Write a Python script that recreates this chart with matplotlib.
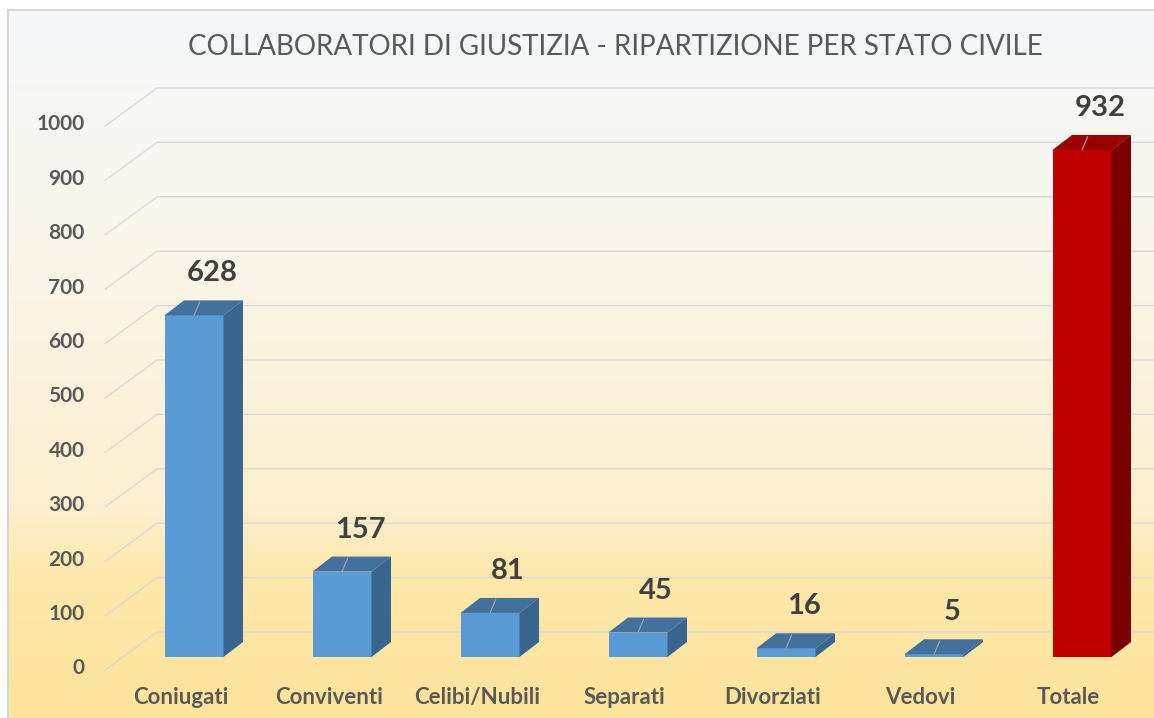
import numpy as np
import matplotlib
matplotlib.use("Agg")
import matplotlib.pyplot as plt
from matplotlib.patches import Polygon
from matplotlib.colors import LinearSegmentedColormap

# data
categories = ["Coniugati", "Conviventi", "Celibi/Nubili", "Separati", "Divorziati", "Vedovi", "Totale"]
values = [628, 157, 81, 45, 16, 5, 932]
y_ticks = [0, 100, 200, 300, 400, 500, 600, 700, 800, 900, 1000]
title = "COLLABORATORI DI GIUSTIZIA - RIPARTIZIONE PER STATO CIVILE"

W, H, DPI = 1154, 718, 100
plt.rcParams['font.family'] = ['Lato', 'DejaVu Sans']

fig = plt.figure(figsize=(W / DPI, H / DPI), dpi=DPI)
fig.patch.set_facecolor("white")

# background gradient panel
bg = fig.add_axes([8 / W, 0, 1 - 8 / W, 1 - 10 / H])
grad = LinearSegmentedColormap.from_list("bg", [
    (0.0, "#f4f7fa"), (0.35, "#faf5e9"), (0.7, "#fcefcf"),
    (0.8, "#fde8ab"), (1.0, "#fee49b")])
bg.imshow(np.linspace(0, 1, 256).reshape(-1, 1), aspect="auto", cmap=grad,
          extent=[0, 1, 1, 0])
bg.set_xlim(0, 1)
bg.set_ylim(1, 0)
bg.axis("off")
fig.add_artist(plt.Line2D([8 / W, 8 / W], [0, 1 - 10 / H], color="#d0d0d0", lw=1.2))
fig.add_artist(plt.Line2D([8 / W, 1], [1 - 10 / H, 1 - 10 / H], color="#d0d0d0", lw=1.2))

# main axes: whole figure, category units on x, values on y
ax = fig.add_axes([0, 0, 1, 1])
ax.patch.set_alpha(0)
px_per_cat = 148.0
px_per_val = 0.544
x0_px, y0_px = 194.0, 657.0
ax.set_xlim(-x0_px / px_per_cat, (W - x0_px) / px_per_cat)
ax.set_ylim(-(H - y0_px) / px_per_val, y0_px / px_per_val)
ax.axis("off")

# perspective offsets (data units)
bar_w = 59 / px_per_cat
dx = 19.5 / px_per_cat
dy = 15 / px_per_val
back_x = -0.25
back_dy = 25 / px_per_val
front_x = -0.60
front_dy = -13 / px_per_val

# grid lines
for t in y_ticks:
    ax.plot([front_x, back_x, 7.0], [t + front_dy, t + back_dy, t + back_dy],
            color="#d9d9d9", lw=1.0, zorder=1)
    ax.text(-0.74, t + front_dy + 3, str(t), ha="right", va="center",
            fontsize=15, fontweight="bold", color="#595959")

front_cols = ["#5b9bd5"] * 6 + ["#c00000"]
top_cols = ["#41719c"] * 6 + ["#9c0000"]
side_cols = ["#3a658f"] * 6 + ["#7a0000"]

xs = np.arange(len(categories))
ax.bar(xs, values, width=bar_w, color=front_cols, zorder=3)
for i, v in enumerate(values):
    l, r = i - bar_w / 2, i + bar_w / 2
    ax.add_patch(Polygon([(l, v), (r, v), (r + dx, v + dy), (l + dx, v + dy)],
                         closed=True, facecolor=top_cols[i], edgecolor="none", zorder=3))
    ax.add_patch(Polygon([(r, 0), (r + dx, dy), (r + dx, v + dy), (r, v)],
                         closed=True, facecolor=side_cols[i], edgecolor="none", zorder=3))
    # value label with leader line
    ax.annotate(str(v), xy=(i, v), xytext=(18, 42), textcoords="offset pixels",
                ha="center", va="center", fontsize=21, fontweight="bold",
                color="#404040", zorder=5,
                arrowprops=dict(arrowstyle="-", color="#a6a6a6", lw=0.8,
                                shrinkA=10, shrinkB=0))
    ax.text(i - 0.09, -75, categories[i], ha="center", va="center",
            fontsize=16, fontweight="bold", color="#595959")

fig.text(615 / W, 1 - 47 / H, title, ha="center", va="center",
         fontsize=20, color="#595959")

fig.savefig("out.png", dpi=DPI)
